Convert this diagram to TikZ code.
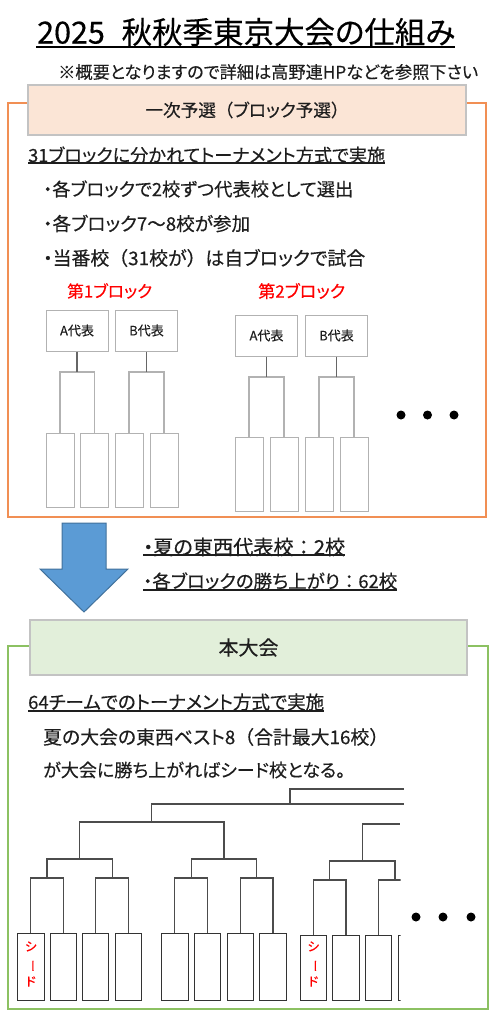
\documentclass[tikz,border=0pt]{standalone}
\usepackage{fontspec}
\setmainfont{Noto Sans CJK JP}[RawFeature=+palt, FakeBold=0.35]
\newfontfamily\fw{Noto Sans CJK JP}[FakeBold=0.35]
\newcommand\fitto[2]{\resizebox{#1pt}{!}{#2}}
\definecolor{oframe}{RGB}{241,143,84}
\definecolor{gframe}{RGB}{140,193,98}
\definecolor{peach}{RGB}{251,229,214}
\definecolor{lgreen}{RGB}{226,239,218}
\definecolor{hborder}{RGB}{195,195,195}
\definecolor{abfill}{RGB}{91,155,213}
\definecolor{abdraw}{RGB}{65,113,156}
\definecolor{txtc}{RGB}{30,30,30}
\begin{document}
\begin{tikzpicture}[x=1pt,y=-1pt,
  txt/.style={anchor=west, inner sep=0pt, text=txtc, font=\fontsize{17}{20}\selectfont},
  hdr/.style={draw=hborder, line width=1.5pt, minimum width=438pt, minimum height=50pt, inner sep=0pt, text=txtc, font=\fontsize{17}{20}\selectfont},
  rep/.style={draw=black!30, line width=1pt, minimum width=62pt, minimum height=41pt, inner sep=0pt, text=txtc, font=\fontsize{13}{15}\selectfont},
  leafp/.style={draw=black!30, line width=1pt, minimum width=28pt, minimum height=74pt, inner sep=0pt},
  brp/.style={draw=black!30, line width=1.2pt},
  stemp/.style={draw=black!60, line width=1.2pt},
  leafm/.style={draw=black!80, line width=1pt, minimum width=26.5pt, minimum height=67pt, inner sep=0pt},
  brm/.style={draw=black!70, line width=1.2pt},
  uline/.style={draw=txtc, line width=1.2pt},
  dot/.style={circle, fill=black, inner sep=0pt, minimum size=9pt},
  seed/.style={text=red, font=\fontsize{12.5}{17.5}\selectfont, align=center, inner sep=0pt}
]
\useasboundingbox (0,0) rectangle (497,1024);

% title
\node[txt, text=black, font=\fontsize{30}{34}\selectfont] (title) at (37,32) {\fitto{418}{2025\hspace{0.55em}秋秋季東京大会の仕組み}};
\coordinate (tu1) at (36,47); \coordinate (tu2) at (455,47);
\draw[uline, black] (tu1) -- (tu2);
\node[txt, font=\fontsize{16.5}{20}\selectfont] (note) at (58,72) {\fitto{420}{※概要となりますので詳細は高野連HPなどを参照下さい}};

% preliminary
\draw[oframe, line width=2pt] (8,103) rectangle (486,517);
\node[hdr, fill=peach] (h1) at (247,110) {\fitto{203}{一次予選{\fw （}ブロック予選{\fw ）}}};
\node[txt] (l1) at (28,155) {\fitto{357}{31ブロックに分かれてトーナメント方式で実施}};
\coordinate (u1a) at (28,163); \coordinate (u1b) at (385,163);
\draw[uline] (u1a) -- (u1b);
\node[txt] (b1) at (43,189) {\fitto{310}{・各ブロックで2校ずつ代表校として選出}};
\node[txt] (b2) at (43,223.5) {\fitto{207}{・各ブロック7{\fw ～}8校が参加}};
\node[txt] (b3) at (43,258) {\fitto{322}{・当番校{\fw （}31校が{\fw ）}は自ブロックで試合}};
\node[txt, text=red] (r1) at (67,291) {\fitto{85}{第1ブロック}};
\node[txt, text=red] (r2) at (258,291) {\fitto{87}{第2ブロック}};

\node[rep] (a1) at (77,330.5) {A代表};
\node[rep] (bb1) at (146.5,330.5) {B代表};
\node[rep] (a2) at (266.5,335.5) {A代表};
\node[rep] (bb2) at (336.5,335.5) {B代表};
\node[leafp] (p1) at (60,470) {};
\node[leafp] (p2) at (94.5,470) {};
\node[leafp] (p3) at (129,470) {};
\node[leafp] (p4) at (164,470) {};
\node[leafp] (p5) at (249,474) {};
\node[leafp] (p6) at (284,474) {};
\node[leafp] (p7) at (319,474) {};
\node[leafp] (p8) at (354,474) {};
\coordinate (j1) at (77,372);
\coordinate (j2) at (146.5,372);
\coordinate (j3) at (266.5,377);
\coordinate (j4) at (336.5,377);
\draw[brp] (p1.north) |- (j1) -| (p2.north);
\draw[brp] (p3.north) |- (j2) -| (p4.north);
\draw[brp] (p5.north) |- (j3) -| (p6.north);
\draw[brp] (p7.north) |- (j4) -| (p8.north);
\draw[stemp] (a1.south) -- (j1);
\draw[stemp] (bb1.south) -- (j2);
\draw[stemp] (a2.south) -- (j3);
\draw[stemp] (bb2.south) -- (j4);
\node[dot] (d1) at (401,415) {};
\node[dot] (d2) at (427.5,415) {};
\node[dot] (d3) at (454,415) {};

% arrow
\draw[abdraw, line width=1pt, fill=abfill] (62,523) -- (106,523) -- (106,569) -- (128,569) -- (84,612) -- (40,569) -- (62,569) -- cycle;
\node[txt] (t1) at (143,547) {\fitto{202}{・夏の東西代表校{\fw ：}2校}};
\coordinate (u2a) at (143,555); \coordinate (u2b) at (345,555);
\draw[uline] (u2a) -- (u2b);
\node[txt] (t2) at (143,581) {\fitto{254}{・各ブロックの勝ち上がり{\fw ：}62校}};
\coordinate (u3a) at (143,590); \coordinate (u3b) at (397,590);
\draw[uline] (u3a) -- (u3b);

% main tournament
\draw[gframe, line width=2.5pt] (8,646) rectangle (488,1009);
\node[hdr, fill=lgreen, minimum width=437pt, minimum height=55pt] (h2) at (248.5,647.5) {\fitto{60}{本大会}};
\node[txt] (m1t) at (28,702) {\fitto{296}{64チームでのトーナメント方式で実施}};
\coordinate (u4a) at (28,711); \coordinate (u4b) at (324,711);
\draw[uline] (u4a) -- (u4b);
\node[txt] (m2t) at (43,737) {\fitto{345}{夏の大会の東西ベスト8{\fw （}合計最大16校{\fw ）}}};
\node[txt] (m3t) at (43,770) {\fitto{302}{が大会に勝ち上がればシード校となる。}};

\node[leafm] (m1) at (30.8,966.5) {};
\node[leafm] (m2) at (63.3,966.5) {};
\node[leafm] (m3) at (95.7,966.5) {};
\node[leafm] (m4) at (128.5,966.5) {};
\node[leafm] (m5) at (174.8,966.5) {};
\node[leafm] (m6) at (207.5,966.5) {};
\node[leafm] (m7) at (240.3,966.5) {};
\node[leafm] (m8) at (273,966.5) {};
\node[leafm, minimum height=65pt] (m9) at (313.3,967.5) {};
\node[leafm, minimum height=65pt] (m10) at (346,967.5) {};
\node[leafm, minimum height=65pt] (m11) at (378.5,967.5) {};
\node[seed] (s1) at (30.8,964) {シ\\\rotatebox[origin=c]{-90}{ー}\\ド};
\node[seed] (s2) at (313.3,964) {シ\\\rotatebox[origin=c]{-90}{ー}\\ド};

\coordinate (q1) at (47,878);
\coordinate (q2) at (112.1,878);
\coordinate (q3) at (191.2,878);
\coordinate (q4) at (256.7,878);
\coordinate (q5) at (329.7,880);
\coordinate (q6) at (395,880);
\coordinate (rr1) at (79.5,859);
\coordinate (rr2) at (224,859);
\coordinate (rr3) at (362.3,861);
\coordinate (ss1) at (151.8,822);
\coordinate (tt1) at (290,804);
\coordinate (e1) at (404,804);
\coordinate (e2) at (404,789);
\coordinate (e3) at (400,824);
\draw[brm] (m1.north) |- (q1) -| (m2.north);
\draw[brm] (m3.north) |- (q2) -| (m4.north);
\draw[brm] (m5.north) |- (q3) -| (m6.north);
\draw[brm] (m7.north) |- (q4) -| (m8.north);
\draw[brm] (m9.north) |- (q5) -| (m10.north);
\draw[brm] (q1) |- (rr1) -| (q2);
\draw[brm] (q3) |- (rr1 -| rr2) -| (q4);
\draw[brm] (rr1) |- (ss1) -| (rr2);
\draw[brm] (ss1) |- (e1);
\draw[brm] (tt1) |- (e2);
\draw[brm] (q5) |- (rr3) -| (q6);
\draw[brm] (rr3) |- (e3);
\begin{scope}
\clip (300,860) rectangle (400.5,1005);
\node[leafm, minimum height=65pt] (m12) at (411.5,967.5) {};
\draw[brm] (m11.north) |- (q6) -| (m12.north);
\end{scope}
\node[dot] (d4) at (416,917) {};
\node[dot] (d5) at (443,917) {};
\node[dot] (d6) at (471,917) {};
\end{tikzpicture}
\end{document}
